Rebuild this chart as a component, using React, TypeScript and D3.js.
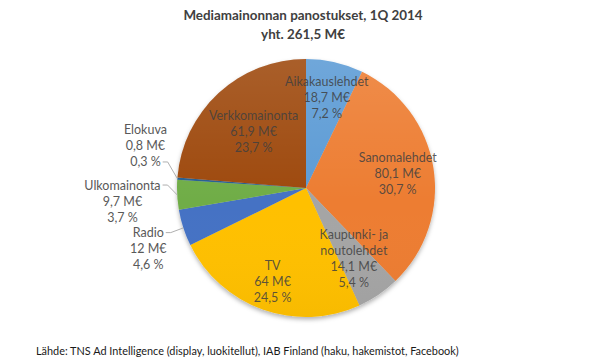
import React, { useEffect, useRef } from "react";
import * as d3 from "d3";

// values (M€), clockwise from 12 o'clock
const categories = [
  "Aikakauslehdet",
  "Sanomalehdet",
  "Kaupunki- ja noutolehdet",
  "TV",
  "Radio",
  "Ulkomainonta",
  "Elokuva",
  "Verkkomainonta",
];
const categoryLines = [
  ["Aikakauslehdet"],
  ["Sanomalehdet"],
  ["Kaupunki- ja", "noutolehdet"],
  ["TV"],
  ["Radio"],
  ["Ulkomainonta"],
  ["Elokuva"],
  ["Verkkomainonta"],
];
const values = [18.7, 80.1, 14.1, 64, 12, 9.7, 0.8, 61.9];
const percents = ["7,2 %", "30,7 %", "5,4 %", "24,5 %", "4,6 %", "3,7 %", "0,3 %", "23,7 %"];
const colors = ["#5B9BD5", "#ED7D31", "#A5A5A5", "#FFC000", "#4472C4", "#70AD47", "#255E91", "#9E480E"];

const titleLines = ["Mediamainonnan panostukset, 1Q 2014", "yht. 261,5 M€"];
const sourceText = "Lähde: TNS Ad Intelligence (display, luokitellut), IAB Finland (haku, hakemistot, Facebook)";

// label placement: inside labels sit on a radius fraction, outside ones get angle shift + radius and a leader line
const labelPlace: Record<string, any> = {
  Aikakauslehdet: { k: 0.72 },
  Sanomalehdet: { k: 0.72 },
  "Kaupunki- ja noutolehdet": { k: 0.66 },
  TV: { k: 0.77 },
  Verkkomainonta: { k: 0.6 },
  Radio: { outside: true, dAngle: -3, radius: 169, attach: 0 },
  Ulkomainonta: { outside: true, dAngle: -1, radius: 184, attach: 0 },
  Elokuva: { outside: true, dAngle: 10.5, radius: 166, attach: 2 },
};

const W = 600, H = 364;
const FONT = "Lato, 'Open Sans', sans-serif";

export default function App() {
  const ref = useRef<SVGSVGElement>(null);

  useEffect(() => {
    const svg = d3.select(ref.current);
    svg.selectAll("*").remove();

    const cx = 306, cy = 188, r = 129;
    const lineH = 16;

    const defs = svg.append("defs");
    const grad = defs.append("linearGradient")
      .attr("id", "sheen").attr("x1", 0).attr("y1", 0).attr("x2", 0).attr("y2", 1);
    grad.append("stop").attr("offset", "0%").attr("stop-color", "#fff").attr("stop-opacity", 0.12);
    grad.append("stop").attr("offset", "55%").attr("stop-color", "#fff").attr("stop-opacity", 0);
    grad.append("stop").attr("offset", "100%").attr("stop-color", "#000").attr("stop-opacity", 0.03);
    const shadow = defs.append("filter").attr("id", "shadow")
      .attr("x", "-10%").attr("y", "-10%").attr("width", "120%").attr("height", "125%");
    shadow.append("feDropShadow").attr("dx", 0).attr("dy", 2.5).attr("stdDeviation", 2)
      .attr("flood-color", "#000").attr("flood-opacity", 0.3);

    // title
    svg.append("g").selectAll("text").data(titleLines).enter().append("text")
      .attr("x", W / 2 + 3).attr("y", (d, i) => 20 + i * 19)
      .attr("text-anchor", "middle")
      .attr("font-family", FONT).attr("font-weight", "bold").attr("font-size", 13.4)
      .attr("fill", "#404040")
      .text((d) => d);

    const data = categories.map((c, i) => ({ cat: c, value: values[i], i }));
    const pie = d3.pie<any>().value((d) => d.value).sort(null);
    const arcs = pie(data);
    const arc = d3.arc<any>().innerRadius(0).outerRadius(r);

    const g = svg.append("g").attr("transform", `translate(${cx},${cy})`);
    const slices = g.append("g").attr("filter", "url(#shadow)");
    slices.selectAll("path").data(arcs).enter().append("path")
      .attr("d", arc)
      .attr("fill", (d) => colors[d.data.i]);
    g.append("circle").attr("r", r).attr("fill", "url(#sheen)");

    const labels = g.append("g").attr("font-family", FONT).attr("font-size", 12.5);

    arcs.forEach((a) => {
      const i = a.data.i;
      const place = labelPlace[a.data.cat];
      const mid = (a.startAngle + a.endAngle) / 2;
      const lines = [...categoryLines[i], String(values[i]).replace(".", ",") + " M€", percents[i]];
      let pos: [number, number];
      if (place.outside) {
        pos = d3.pointRadial(mid + (place.dAngle * Math.PI) / 180, place.radius) as [number, number];
      } else {
        pos = d3.pointRadial(mid, r * place.k) as [number, number];
      }
      const top = pos[1] - ((lines.length - 1) * lineH) / 2;
      const t = labels.append("g");
      const texts = t.selectAll("text").data(lines).enter().append("text")
        .attr("x", pos[0]).attr("y", (d, j) => top + j * lineH + 4.5)
        .attr("text-anchor", "middle")
        .attr("fill", place.outside ? "#595959" : "#404040")
        .attr("fill-opacity", place.outside ? 1 : 0.85)
        .text((d) => d);

      if (place.outside) {
        const node = texts.nodes()[place.attach] as SVGTextElement;
        const w = node.getComputedTextLength();
        const ax = pos[0] + w / 2 + 2;
        const ay = top + place.attach * lineH;
        const edge = d3.pointRadial(mid, r);
        g.append("polyline")
          .attr("points", [[ax, ay], [ax + 5, ay], edge].map((p) => p.join(",")).join(" "))
          .attr("fill", "none").attr("stroke", "#A6A6A6").attr("stroke-width", 0.9);
      }
    });

    // source
    svg.append("text")
      .attr("x", 36).attr("y", 355)
      .attr("font-family", FONT).attr("font-size", 10.9)
      .attr("fill", "#1a1a1a")
      .text(sourceText);
  }, []);

  return (
    <svg ref={ref} width={W} height={H} style={{ position: "absolute", left: 0, top: 0, background: "#fff" }} />
  );
}
